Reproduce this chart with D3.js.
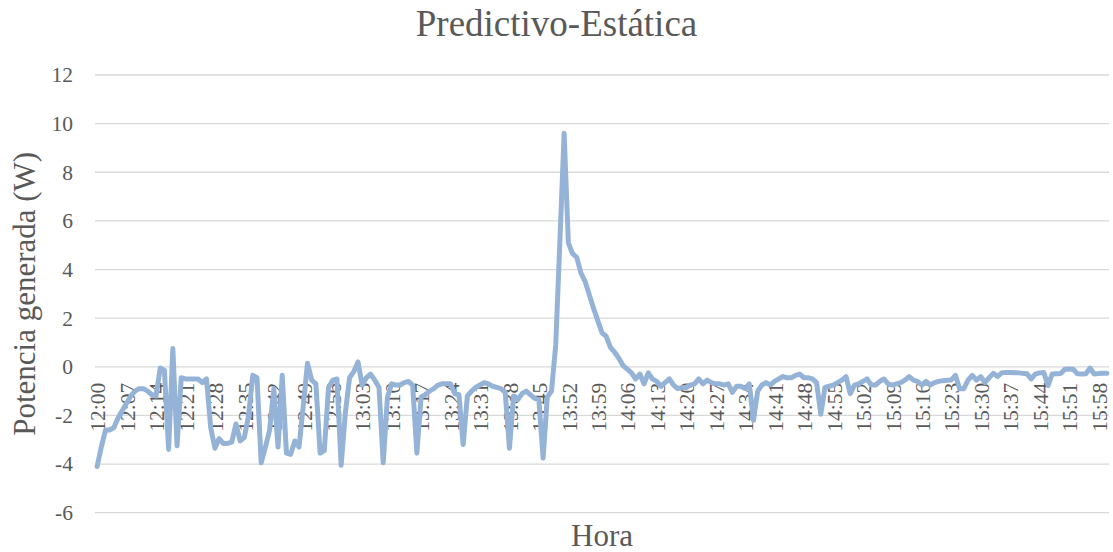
<!DOCTYPE html>
<html>
<head>
<meta charset="utf-8">
<script src="https://cdn.jsdelivr.net/npm/d3@7"></script>
<style>
  html, body { margin: 0; padding: 0; background: #fff; }
  svg { display: block; }
  text { font-family: "Liberation Serif", "Times New Roman", serif; fill: #595959; }
</style>
</head>
<body>
<svg id="chart" width="1113" height="552"></svg>
<script>
// Power generated, one reading per minute from 12:00 to 16:00
const startTime = "12:00";
const values = [
  -4.1, -3.3, -2.6, -2.6, -2.5, -2.1, -1.8, -1.5, -1.2, -1.0,
  -0.9, -0.9, -1.0, -1.15, -1.2, -0.05, -0.15, -3.4, 0.75, -3.25,
  -0.45, -0.5, -0.5, -0.5, -0.5, -0.65, -0.5, -2.5, -3.35, -2.95,
  -3.15, -3.15, -3.1, -2.35, -3.05, -2.9, -2.0, -0.35, -0.45, -3.95,
  -3.3, -2.6, -0.9, -3.3, -0.35, -3.55, -3.6, -3.05, -3.3, -1.6,
  0.15, -0.55, -0.7, -3.55, -3.45, -0.85, -0.55, -0.5, -4.05, -1.9,
  -0.45, -0.2, 0.2, -0.75, -0.45, -0.3, -0.55, -0.85, -3.95, -1.25,
  -0.7, -0.75, -0.75, -0.65, -0.6, -0.75, -3.55, -1.25, -1.15, -1.0,
  -0.9, -0.75, -0.7, -0.7, -0.7, -1.1, -1.15, -3.2, -1.2, -1.0,
  -0.85, -0.75, -0.65, -0.7, -0.8, -0.85, -0.9, -1.05, -3.35, -1.2,
  -1.35, -1.1, -1.0, -1.15, -1.3, -1.35, -3.75, -1.25, -1.0, 0.9,
  5.2, 9.6, 5.1, 4.65, 4.5, 3.85, 3.5, 2.95, 2.4, 1.9,
  1.4, 1.25, 0.8, 0.6, 0.35, 0.05, -0.1, -0.25, -0.5, -0.3,
  -0.7, -0.25, -0.5, -0.6, -0.8, -0.65, -0.5, -0.75, -0.9, -0.85,
  -0.85, -0.75, -0.7, -0.5, -0.7, -0.55, -0.65, -0.7, -0.7, -0.75,
  -0.7, -1.05, -0.8, -0.8, -0.9, -0.7, -2.2, -1.0, -0.75, -0.65,
  -0.75, -0.6, -0.5, -0.4, -0.45, -0.45, -0.35, -0.3, -0.45, -0.45,
  -0.5, -0.65, -1.95, -0.85, -0.8, -0.75, -0.65, -0.55, -0.4, -1.1,
  -0.75, -0.7, -0.6, -0.5, -0.75, -0.75, -0.6, -0.5, -0.7, -0.75,
  -0.7, -0.65, -0.55, -0.4, -0.55, -0.6, -0.75, -0.6, -0.75, -0.65,
  -0.6, -0.57, -0.55, -0.54, -0.35, -0.9, -0.9, -0.55, -0.35, -0.55,
  -0.4, -0.65, -0.45, -0.27, -0.4, -0.25, -0.23, -0.23, -0.24, -0.25,
  -0.27, -0.29, -0.5, -0.3, -0.25, -0.23, -0.77, -0.3, -0.29, -0.28,
  -0.1, -0.09, -0.1, -0.29, -0.3, -0.29, -0.05, -0.3, -0.28, -0.27,
  -0.27
];
const tickLabels = [
  "12:00", "12:07", "12:14", "12:21", "12:28", "12:35", "12:42", "12:49", "12:56",
  "13:03", "13:10", "13:17", "13:24", "13:31", "13:38", "13:45", "13:52", "13:59",
  "14:06", "14:13", "14:20", "14:27", "14:34", "14:41", "14:48", "14:55",
  "15:02", "15:09", "15:16", "15:23", "15:30", "15:37", "15:44", "15:51", "15:58"
];
const yTicks = [-6, -4, -2, 0, 2, 4, 6, 8, 10, 12];
const chartTitle = "Predictivo-Estática";
const yTitle = "Potencia generada (W)";
const xTitle = "Hora";

(function draw() {
  // Category labels: HH:MM for each minute
  const parseHM = d3.timeParse("%H:%M");
  const fmtHM = d3.timeFormat("%H:%M");
  const t0 = parseHM(startTime);
  const categories = values.map((_, i) => fmtHM(d3.timeMinute.offset(t0, i)));

  const svg = d3.select("#chart");
  const plotLeft = 95, plotRight = 1109, plotTop = 75, plotBottom = 512.7;

  const x = d3.scalePoint().domain(categories).range([plotLeft, plotRight]).padding(0.5);
  const y = d3.scaleLinear().domain([-6, 12]).range([plotBottom, plotTop]);

  // Horizontal gridlines
  svg.append("g")
    .selectAll("line")
    .data(yTicks)
    .join("line")
    .attr("x1", plotLeft).attr("x2", plotRight)
    .attr("y1", d => y(d)).attr("y2", d => y(d))
    .attr("stroke", "#d9d9d9").attr("stroke-width", 1.3);

  // Value axis labels (plain hyphen for negatives)
  const yAxis = d3.axisLeft(y).tickValues(yTicks).tickFormat(d => String(d))
    .tickSize(0).tickPadding(0);
  const gy = svg.append("g").attr("transform", `translate(${plotLeft - 22},0)`).call(yAxis);
  gy.select(".domain").remove();
  gy.selectAll("text")
    .attr("font-size", "21.5px")
    .attr("fill", "#595959")
    .attr("font-family", "'Liberation Serif', 'Times New Roman', serif");

  // Category labels, hanging under the zero line
  const xAxis = d3.axisBottom(x).tickValues(tickLabels).tickSize(0).tickPadding(0);
  const gx = svg.append("g").attr("transform", `translate(0,${y(0)})`).call(xAxis);
  gx.select(".domain").remove();
  gx.selectAll("text")
    .attr("font-size", "21.5px")
    .attr("fill", "#595959")
    .attr("font-family", "'Liberation Serif', 'Times New Roman', serif")
    .attr("text-anchor", "end")
    .attr("transform", "translate(0,16) rotate(-90)")
    .attr("x", 0).attr("y", 0).attr("dy", "0.36em");

  // Series line
  const line = d3.line()
    .x((d, i) => x(categories[i]))
    .y(d => y(d));
  svg.append("path")
    .datum(values)
    .attr("d", line)
    .attr("fill", "none")
    .attr("stroke", "#95b3d7")
    .attr("stroke-width", 5)
    .attr("stroke-linejoin", "round")
    .attr("stroke-linecap", "round");

  // Titles
  svg.append("text")
    .attr("x", 556.5).attr("y", 36)
    .attr("text-anchor", "middle")
    .attr("font-size", "37px")
    .text(chartTitle);

  svg.append("text")
    .attr("transform", `translate(35,${(plotTop + plotBottom) / 2}) rotate(-90)`)
    .attr("text-anchor", "middle")
    .attr("font-size", "31px")
    .text(yTitle);

  svg.append("text")
    .attr("x", (plotLeft + plotRight) / 2).attr("y", 546)
    .attr("text-anchor", "middle")
    .attr("font-size", "31px")
    .text(xTitle);
})();
</script>
</body>
</html>
